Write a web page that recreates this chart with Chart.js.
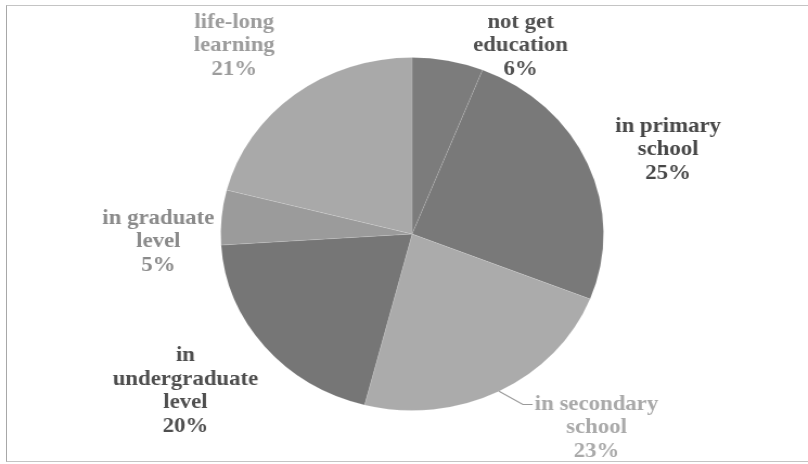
<!DOCTYPE html>
<html>
<head>
<meta charset="utf-8">
<script src="https://cdn.jsdelivr.net/npm/chart.js@4.4.0/dist/chart.umd.min.js"></script>
<style>
  html, body { margin: 0; padding: 0; background: #fff; overflow: hidden; }
  #frame { position: absolute; left: 6px; top: 5px; width: 810px; height: 455px;
           border: 1px solid #c4c4c4; border-left-color: #a8a8a8; }
  #wrap { position: absolute; left: 0; top: 0; width: 745px; height: 464px;
          transform: scaleX(1.0845); transform-origin: 0 0; }
</style>
</head>
<body>
<div id="frame"></div>
<div id="wrap"><canvas id="eduPie" width="745" height="464"></canvas></div>
<script>
// education status shares (%)
var categories = ['not get education', 'in primary school', 'in secondary school',
                  'in undergraduate level', 'in graduate level', 'life-long learning'];
var shares = [6, 25, 23, 20, 5, 21];
// label text, line by line
var labelLines = [
    ['not get', 'education', '6%'],
    ['in primary', 'school', '25%'],
    ['in secondary', 'school', '23%'],
    ['in', 'undergraduate', 'level', '20%'],
    ['in graduate', 'level', '5%'],
    ['life-long', 'learning', '21%']
];

var sliceColors = ['#7c7c7c', '#797979', '#ababab', '#767676', '#9b9b9b', '#a9a9a9'];
var textColors = ['#505050', '#474747', '#a9a9a9', '#4e4e4e', '#8a8a8a', '#9c9c9c'];
// label centre offsets from pie centre (canvas px)
var labelOffsets = [[100, -188], [236, -84], [170, 194], [-209, 157], [-234, 8], [-164, -188]];

// Draws the slice labels next to the pie
var sliceLabels = {
    id: 'sliceLabels',
    afterDraw: function(chart) {
        var ctx = chart.ctx;
        var arcs = chart.getDatasetMeta(0).data;
        ctx.save();
        ctx.font = 'bold 21px "Liberation Serif"';
        ctx.textAlign = 'center';
        ctx.textBaseline = 'middle';
        arcs.forEach(function(arc, i) {
            var cx = arc.x + labelOffsets[i][0];
            var cy = arc.y + labelOffsets[i][1];
            var lines = labelLines[i];
            var lh = 23.5;
            var top = cy - (lines.length - 1) * lh / 2;
            ctx.fillStyle = textColors[i];
            lines.forEach(function(t, k) {
                ctx.fillText(t, cx, top + k * lh);
            });
            if (i === 2) {
                // leader line from arc edge to label
                var mid = (arc.startAngle + arc.endAngle) / 2;
                var ex = arc.x + Math.cos(mid) * arc.outerRadius;
                var ey = arc.y + Math.sin(mid) * arc.outerRadius;
                var w = ctx.measureText(lines[0]).width;
                var lx = cx - w / 2 - 2;
                ctx.strokeStyle = '#9a9a9a';
                ctx.lineWidth = 1.2;
                ctx.beginPath();
                ctx.moveTo(ex, ey);
                ctx.lineTo(lx - 9, top);
                ctx.lineTo(lx, top);
                ctx.stroke();
            }
        });
        ctx.restore();
    }
};

new Chart(document.getElementById('eduPie'), {
    type: 'pie',
    data: {
        labels: categories,
        datasets: [{
            data: shares,
            backgroundColor: sliceColors,
            borderColor: 'rgba(255, 255, 255, 0.12)',
            borderWidth: 1
        }]
    },
    options: {
        responsive: false,
        animation: false,
        layout: { padding: { top: 57, bottom: 53, left: 15, right: 0 } },
        plugins: {
            legend: { display: false },
            tooltip: { enabled: false }
        }
    },
    plugins: [sliceLabels]
});
</script>
</body>
</html>
